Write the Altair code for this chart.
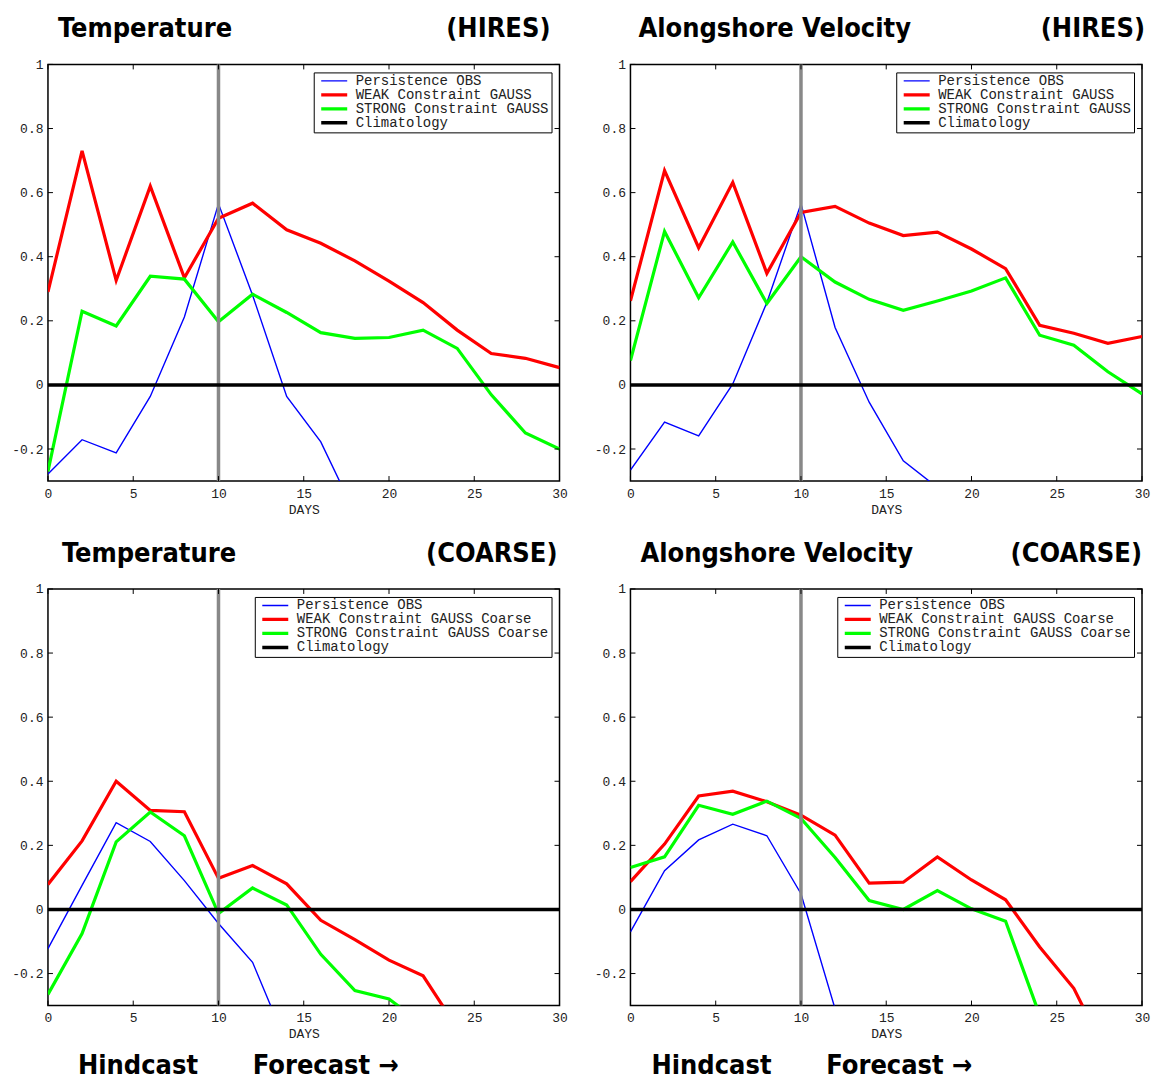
import altair as alt
import pandas as pd

# ---------------- data ----------------
days = [0, 2, 4, 6, 8, 10, 12, 14, 16, 18, 20, 22, 24, 26, 28, 30]

series_hires = ["Persistence OBS", "WEAK Constraint GAUSS", "STRONG Constraint GAUSS", "Climatology"]
series_coarse = ["Persistence OBS", "WEAK Constraint GAUSS Coarse", "STRONG Constraint GAUSS Coarse", "Climatology"]

temp_hires_persist = [-0.278, -0.171, -0.212, -0.036, 0.212, 0.565, 0.28, -0.036, -0.178, -0.40]
temp_hires_weak = [0.29, 0.73, 0.326, 0.62, 0.334, 0.52, 0.567, 0.484, 0.442, 0.387, 0.324, 0.257, 0.171, 0.098, 0.083, 0.054]
temp_hires_strong = [-0.27, 0.23, 0.184, 0.339, 0.33, 0.197, 0.283, 0.226, 0.163, 0.145, 0.148, 0.171, 0.114, -0.031, -0.15, -0.2]

vel_hires_persist = [-0.266, -0.116, -0.159, 0.003, 0.257, 0.565, 0.179, -0.054, -0.237, -0.32]
vel_hires_weak = [0.262, 0.669, 0.428, 0.632, 0.348, 0.538, 0.557, 0.505, 0.466, 0.477, 0.424, 0.363, 0.186, 0.161, 0.130, 0.151]
vel_hires_strong = [0.076, 0.479, 0.272, 0.446, 0.254, 0.40, 0.321, 0.267, 0.233, 0.262, 0.293, 0.334, 0.155, 0.124, 0.041, -0.028]

temp_coarse_persist = [-0.122, 0.075, 0.271, 0.212, 0.09, -0.044, -0.165, -0.42]
temp_coarse_weak = [0.078, 0.214, 0.40, 0.309, 0.305, 0.097, 0.137, 0.080, -0.034, -0.094, -0.158, -0.207, -0.37]
temp_coarse_strong = [-0.265, -0.075, 0.211, 0.304, 0.23, -0.013, 0.067, 0.014, -0.14, -0.253, -0.279, -0.36]

vel_coarse_persist = [-0.07, 0.121, 0.217, 0.266, 0.23, 0.049, -0.31]
vel_coarse_weak = [0.087, 0.204, 0.354, 0.369, 0.336, 0.294, 0.232, 0.082, 0.085, 0.164, 0.092, 0.03, -0.117, -0.246, -0.46]
vel_coarse_strong = [0.131, 0.164, 0.325, 0.297, 0.338, 0.284, 0.162, 0.028, 0.0, 0.059, 0.002, -0.037, -0.33]

climatology_days = [0, 30]
climatology_values = [0, 0]
forecast_start = [10]

x_ticks = [0, 5, 10, 15, 20, 25, 30]
y_ticks = [-0.2, 0, 0.2, 0.4, 0.6, 0.8, 1]

titles_left = ["Temperature", "Alongshore Velocity", "Temperature", "Alongshore Velocity"]
titles_right = ["(HIRES)", "(HIRES)", "(COARSE)", "(COARSE)"]
bottom_left = "Hindcast"
bottom_right = "Forecast \u2192"

colors = ["#0000ff", "#ff0000", "#00ff00", "#000000"]
widths = [1.4, 3.2, 3.2, 3.5]

# ---------------- styling ----------------
W, H = 512, 417
MONO = "Liberation Mono"
BOLD = "DejaVu Sans Condensed, Liberation Sans Narrow, sans-serif"
TFS = 27
XDOM = [0, 30]
YDOM = [-0.3, 1]


def panel(names, persist, weak, strong, tl, tr, tl_x, tr_x, bottom=False, bl_x=30, br_x=205):
    rows = []
    for name, vals in zip(names[:3], [persist, weak, strong]):
        for d, v in zip(days, vals):
            rows.append({"day": d, "value": v, "series": name})
    df = pd.DataFrame(rows)
    clim = pd.DataFrame({"day": climatology_days, "value": climatology_values,
                         "series": [names[3]] * len(climatology_days)})

    xs = alt.Scale(domain=XDOM, nice=False, zero=False)
    ys = alt.Scale(domain=YDOM, nice=False, zero=False)
    cs = alt.Scale(domain=names, range=colors)
    ws = alt.Scale(type="ordinal", domain=names, range=widths)
    leg = alt.Legend(
        title=None, orient="top-right", offset=8, strokeColor="black", fillColor="white",
        padding=2, symbolType="M-2,0L2,0", symbolSize=169, labelFont=MONO, labelFontSize=14,
        labelColor="#222", labelLimit=400, rowPadding=-2, clipHeight=13,
        symbolOffset=10, labelOffset=13,
    )
    xaxis = alt.Axis(values=x_ticks, title="DAYS", titleFont=MONO, titleFontSize=13,
                     titleFontWeight="normal", titleColor="#222", titlePadding=3,
                     labelFont=MONO, labelFontSize=13, labelColor="#222", labelPadding=6,
                     ticks=False, domain=False, grid=False, labelFlush=False)
    yaxis = alt.Axis(values=y_ticks, title=None, labelFont=MONO, labelFontSize=13,
                     labelColor="#222", labelPadding=5, ticks=False, domain=False, grid=False,
                     labelExpr="replace(format(datum.value, '.1~f'), '\u2212', '-')")

    lines = alt.Chart(df).mark_line(clip=True).encode(
        x=alt.X("day:Q", scale=xs, axis=xaxis),
        y=alt.Y("value:Q", scale=ys, axis=yaxis),
        color=alt.Color("series:N", scale=cs, legend=leg),
        strokeWidth=alt.StrokeWidth("series:N", scale=ws, legend=leg),
    )
    vline = alt.Chart(pd.DataFrame({"day": forecast_start})).mark_rule(
        color="#888888", strokeWidth=3.5).encode(x=alt.X("day:Q", scale=xs, axis=xaxis))
    climl = alt.Chart(clim).mark_line(clip=True).encode(
        x=alt.X("day:Q", scale=xs, axis=xaxis),
        y=alt.Y("value:Q", scale=ys, axis=yaxis),
        color=alt.Color("series:N", scale=cs, legend=leg),
        strokeWidth=alt.StrokeWidth("series:N", scale=ws, legend=leg),
    )
    xt = alt.Chart(pd.DataFrame({"day": x_ticks}))
    yt = alt.Chart(pd.DataFrame({"value": y_ticks}))
    tb = xt.mark_rule(color="black", strokeWidth=1).encode(
        x=alt.X("day:Q", scale=xs, axis=xaxis), y=alt.value(H), y2=alt.value(H - 5))
    tt = xt.mark_rule(color="black", strokeWidth=1).encode(
        x=alt.X("day:Q", scale=xs, axis=xaxis), y=alt.value(0), y2=alt.value(5))
    tlft = yt.mark_rule(color="black", strokeWidth=1).encode(
        y=alt.Y("value:Q", scale=ys, axis=yaxis), x=alt.value(0), x2=alt.value(5))
    trgt = yt.mark_rule(color="black", strokeWidth=1).encode(
        y=alt.Y("value:Q", scale=ys, axis=yaxis), x=alt.value(W), x2=alt.value(W - 5))

    def label(txt, x, y, align):
        return alt.Chart(pd.DataFrame({"s": [txt]})).mark_text(
            font=BOLD, fontWeight="bold", fontSize=TFS, align=align, baseline="alphabetic",
            color="black").encode(text="s:N", x=alt.value(x), y=alt.value(y))

    layers = [lines, vline, climl, tb, tt, tlft, trgt,
              label(tl, tl_x, -27, "left"), label(tr, tr_x, -27, "right")]
    if bottom:
        layers += [label(bottom_left, bl_x, 485, "left"), label(bottom_right, br_x, 485, "left")]
    return alt.layer(*layers).properties(width=W, height=H)


p1 = panel(series_hires, temp_hires_persist, temp_hires_weak, temp_hires_strong,
           titles_left[0], titles_right[0], 10, 503)
p2 = panel(series_hires, vel_hires_persist, vel_hires_weak, vel_hires_strong,
           titles_left[1], titles_right[1], 8, 515)
p3 = panel(series_coarse, temp_coarse_persist, temp_coarse_weak, temp_coarse_strong,
           titles_left[2], titles_right[2], 14, 510, bottom=True, bl_x=30, br_x=205)
p4 = panel(series_coarse, vel_coarse_persist, vel_coarse_weak, vel_coarse_strong,
           titles_left[3], titles_right[3], 10, 512, bottom=True, bl_x=21, br_x=196)

chart = alt.concat(
    p1, p2, p3, p4, columns=2, spacing={"row": 108, "column": 71}, bounds="flush"
).resolve_scale(
    color="independent", strokeWidth="independent", x="independent", y="independent"
).properties(
    padding={"left": 3, "top": 6, "right": 0, "bottom": 0}, background="white"
).configure_view(stroke="black", strokeWidth=1.5)

chart.save("out.html", embed_options={"renderer": "svg", "actions": False})
